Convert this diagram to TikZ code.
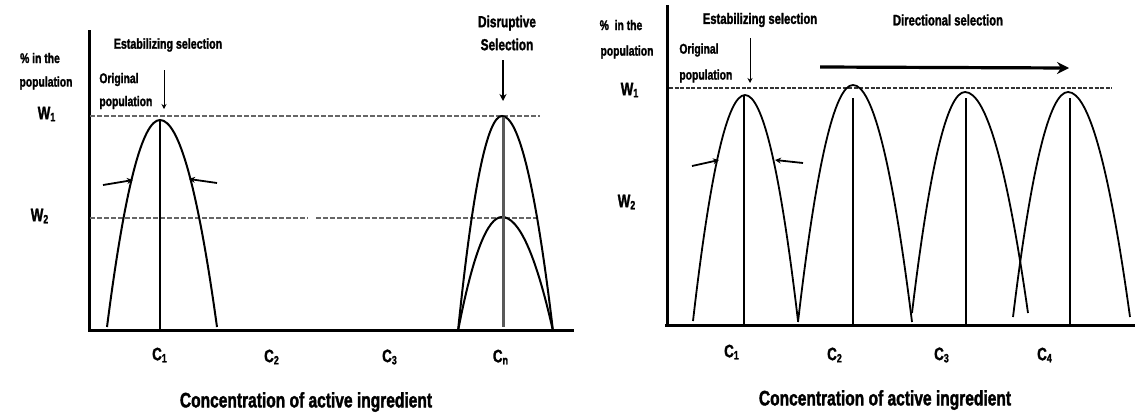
\documentclass[tikz,border=0pt]{standalone}
\usepackage{fontspec}
\setmainfont[FakeStretch=0.74,BoldFeatures={FakeBold=1.6}]{Liberation Sans}
\usetikzlibrary{arrows.meta}
\newcommand{\drawpeak}[6][]{%
  % #2 centre x, #3 peak y, #4 left foot x, #5 right foot x, #6 foot y
  \draw[#1] (#4,#6) .. controls ({#4+(#2-#4)/3},{#6+2*(#3-#6)/3}) and ({#2-(#2-#4)/3},#3) .. (#2,#3)
        .. controls ({#2+(#5-#2)/3},#3) and ({#5-(#5-#2)/3},{#6+2*(#3-#6)/3}) .. (#5,#6);}
\begin{document}
\begin{tikzpicture}[x=0.5pt,y=-0.5pt,
  lbl/.style={font=\bfseries\fontsize{7}{8}\selectfont,inner sep=0pt,align=center},
  big/.style={font=\bfseries\fontsize{10.5}{11}\selectfont,inner sep=0pt},
  clbl/.style={font=\bfseries\fontsize{9}{9}\selectfont,inner sep=0pt},
  axisline/.style={line width=1.5pt,black},
  curveA/.style={line width=1pt,black},
  curveB/.style={line width=0.9pt,black},
  wdash/.style={line width=0.8pt,gray!80!black,dash pattern=on 2.5pt off 1pt},
  wdashB/.style={line width=0.6pt,black!80,dash pattern=on 2pt off 0.8pt},
  smallarrow/.style={line width=0.9pt,-{Stealth[length=3pt,width=3pt]}},
  thinarrow/.style={line width=0.5pt,-{Stealth[length=2.5pt,width=2.5pt]}},
  bigarrow/.style={line width=1.6pt,-{Stealth[length=6pt,width=6pt,inset=2pt]}}]
\useasboundingbox (0,0) rectangle (1135,413);

%%%%%%%%%%%%%%%% LEFT PANEL %%%%%%%%%%%%%%%%
\node[lbl] (ylA1) at (40,58) {\% in the};
\node[lbl] (ylA2) at (46,83) {population};
\node[lbl,font=\bfseries\fontsize{9}{9}\selectfont] (w1A) at (47,114) {W\textsubscript{1}};
\node[lbl,font=\bfseries\fontsize{9}{9}\selectfont] (w2A) at (40,216) {W\textsubscript{2}};
\node[lbl,font=\bfseries\fontsize{7.2}{8}\selectfont] (stabA) at (168,45) {Estabilizing selection};
\node[lbl,align=left,anchor=west,font=\bfseries\fontsize{7}{11.5}\selectfont] (origA) at (99,91) {Original\\population};
\node[lbl,font=\bfseries\fontsize{8}{11.5}\selectfont] (disA) at (507,33) {Disruptive\\Selection};

% axes
\coordinate (yAtop) at (89,30);
\coordinate (yAbot) at (89,331);
\coordinate (xAstart) at (88,330);
\coordinate (xAend) at (574,330);
\draw[axisline] (yAtop) -- (yAbot);
\draw[axisline] (xAstart) -- (xAend);

% dashed levels
\coordinate (w1As) at (90,116); \coordinate (w1Ae) at (540,116);
\draw[wdash] (w1As) -- (w1Ae);
\coordinate (w2As) at (90,218); \coordinate (w2Am) at (308,218);
\coordinate (w2An) at (316,218); \coordinate (w2Ae) at (538,218);
\draw[wdash] (w2As) -- (w2Am);
\draw[wdash] (w2An) -- (w2Ae);

% C1 curve
\drawpeak[curveA]{160}{120}{107}{217}{327}
\coordinate (c1Atop) at (160,119); \coordinate (c1Abot) at (160,331);
\draw[line width=1pt] (c1Atop) -- (c1Abot);
\coordinate (la1) at (103,185); \coordinate (la2) at (133,180);
\draw[smallarrow] (la1) -- (la2);
\coordinate (ra1) at (217,183); \coordinate (ra2) at (189,179);
\draw[smallarrow] (ra1) -- (ra2);

% original population arrow
\coordinate (oa1) at (164,70); \coordinate (oa2) at (164,109);
\draw[thinarrow] (oa1) -- (oa2);

% Cn curves
\drawpeak[curveA]{502}{116}{458}{553}{331}
\drawpeak[curveA]{502}{217}{458}{553}{331}
\coordinate (cnAtop) at (503,117); \coordinate (cnAbot) at (503,327);
\draw[line width=1.5pt,gray!70!black] (cnAtop) -- (cnAbot);
\coordinate (da1) at (503,60); \coordinate (da2) at (503,101);
\draw[line width=1.1pt,-{Stealth[length=3.5pt,width=3.5pt]}] (da1) -- (da2);

% bottom labels
\node[clbl] (c1A) at (160,355) {C\textsubscript{1}};
\node[clbl] (c2A) at (272,357) {C\textsubscript{2}};
\node[clbl] (c3A) at (390,357) {C\textsubscript{3}};
\node[clbl] (cnA) at (501,357) {C\textsubscript{n}};
\node[big] (concA) at (306,402) {Concentration of active ingredient};

%%%%%%%%%%%%%%%% RIGHT PANEL %%%%%%%%%%%%%%%%
\node[lbl] (ylB1) at (621,25) {\% ~in the};
\node[lbl] (ylB2) at (627,52) {population};
\node[lbl,font=\bfseries\fontsize{9}{9}\selectfont] (w1B) at (630,90) {W\textsubscript{1}};
\node[lbl,font=\bfseries\fontsize{9}{9}\selectfont] (w2B) at (627,202) {W\textsubscript{2}};
\node[lbl,font=\bfseries\fontsize{7.6}{8}\selectfont] (stabB) at (760,20) {Estabilizing selection};
\node[lbl,font=\bfseries\fontsize{7.6}{8}\selectfont] (dirB) at (948,20) {Directional selection};
\node[lbl,align=left,anchor=west,font=\bfseries\fontsize{7}{13}\selectfont] (origB) at (679,63) {Original\\population};

% axes
\coordinate (yBtop) at (667,5);
\coordinate (yBbot) at (667,326);
\coordinate (xBstart) at (665,325);
\coordinate (xBend) at (1135,325);
\draw[axisline] (yBtop) -- (yBbot);
\draw[axisline] (xBstart) -- (xBend);

% dashed W1
\coordinate (w1Bs) at (669,88); \coordinate (w1Be) at (1112,88);
\draw[wdashB] (w1Bs) -- (w1Be);

% original population arrow
\coordinate (ob1) at (750,38); \coordinate (ob2) at (750,83);
\draw[thinarrow] (ob1) -- (ob2);

% directional arrow
\coordinate (dir1) at (820,67); \coordinate (dir2) at (1069,68);
\draw[bigarrow] (dir1) -- (dir2);

% curves
\drawpeak[curveB]{745}{95}{693}{798}{321}
\drawpeak[curveB]{853}{85}{798}{912}{322}
\drawpeak[curveB]{965}{92}{912}{1028}{313}
\drawpeak[curveB]{1068}{92}{1013}{1130}{317}

% verticals
\coordinate (v1t) at (744,96);  \coordinate (v1b) at (744,325);
\coordinate (v2t) at (853,98);  \coordinate (v2b) at (853,325);
\coordinate (v3t) at (966,98);  \coordinate (v3b) at (966,325);
\coordinate (v4t) at (1070,98); \coordinate (v4b) at (1070,325);
\draw[line width=0.6pt] (v1t) -- (v1b);
\draw[line width=0.6pt] (v2t) -- (v2b);
\draw[line width=0.6pt] (v3t) -- (v3b);
\draw[line width=0.6pt] (v4t) -- (v4b);

% stabilizing arrows
\coordinate (lb1) at (692,166); \coordinate (lb2) at (719,160);
\draw[smallarrow] (lb1) -- (lb2);
\coordinate (rb1) at (803,163); \coordinate (rb2) at (775,160);
\draw[smallarrow] (rb1) -- (rb2);

% bottom labels
\node[clbl] (c1B) at (732,352) {C\textsubscript{1}};
\node[clbl] (c2B) at (835,355) {C\textsubscript{2}};
\node[clbl] (c3B) at (942,355) {C\textsubscript{3}};
\node[clbl] (c4B) at (1045,355) {C\textsubscript{4}};
\node[big] (concB) at (885,400) {Concentration of active ingredient};
\end{tikzpicture}
\end{document}
